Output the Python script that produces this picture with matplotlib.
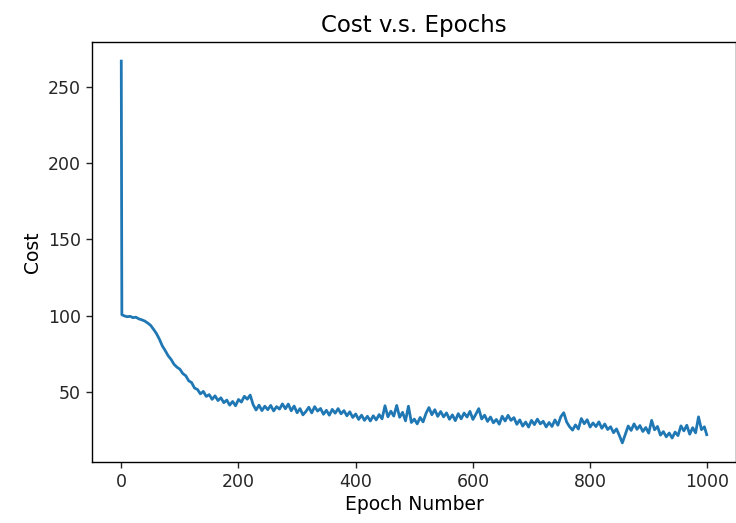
import matplotlib
matplotlib.use("Agg")
import matplotlib.pyplot as plt

epochs = [0, 1] + list(range(5, 1000, 5)) + [999]

costs = [
    267.0, 100.5,
    99.8, 99.2, 99.5, 98.6, 98.9, 97.8, 97.2, 96.4, 95.1, 93.6,
    91.0, 88.2, 84.5, 80.1, 77.0, 73.6, 71.2, 68.0, 66.1, 64.8,
    61.9, 60.5, 57.2, 56.0, 52.4, 51.5, 48.6, 50.2, 46.9, 48.1,
    45.0, 47.3, 44.2, 46.0, 42.8, 44.5, 41.2, 43.6, 40.8, 44.9,
    43.2, 47.0, 45.1, 47.8, 41.5, 38.0, 41.2, 37.6, 40.5, 38.2,
    41.0, 37.4, 40.2, 38.6, 42.0, 38.8, 41.9, 37.5, 40.6, 36.2,
    38.9, 34.8, 37.0, 39.8, 36.1, 40.2, 37.3, 39.0, 35.2, 37.8,
    34.6, 38.4, 35.9, 38.9, 35.5, 37.6, 34.2, 36.8, 33.1, 35.4,
    31.8, 34.6, 31.2, 33.9, 30.8, 34.2, 31.5, 35.0, 32.2, 40.8,
    33.5, 37.2, 34.0, 41.0, 33.2, 36.5, 30.9, 40.5, 29.8, 32.0,
    28.9, 33.1, 30.2, 35.8, 39.6, 34.9, 38.2, 33.8, 37.0, 33.5,
    36.1, 31.9, 34.8, 31.0, 35.6, 32.2, 36.0, 33.4, 37.1, 31.8,
    35.2, 38.9, 32.1, 34.6, 30.5, 33.4, 29.6, 31.8, 28.7, 33.9,
    30.8, 34.5, 31.2, 33.0, 28.6, 31.5, 27.4, 30.1, 26.8, 31.2,
    28.4, 32.0, 28.9, 30.6, 26.9, 29.8, 27.2, 31.5, 28.0, 33.6,
    36.2, 30.1, 27.0, 24.8, 28.2, 25.5, 32.4, 29.0, 31.6, 26.8,
    29.5, 27.1, 30.2, 26.0, 28.8, 25.2, 27.0, 23.1, 25.6, 21.2,
    16.4, 22.0, 27.5, 24.6, 28.9, 25.3, 27.8, 23.9, 26.5, 22.8,
    31.2, 25.0, 27.2, 21.5, 23.8, 20.4, 22.9, 19.6, 23.5, 21.2,
    27.6, 24.3, 28.0, 22.1, 26.4, 23.0, 33.5, 25.1, 27.0,
    21.8,
]

title = "Cost v.s. Epochs"
xlabel = "Epoch Number"
ylabel = "Cost"

plt.rcParams["font.family"] = "DejaVu Sans"
plt.rcParams["font.size"] = 12.5

fig = plt.figure(figsize=(7.36, 5.23), dpi=100)
ax = fig.add_axes([92 / 736, 61 / 523, 644 / 736, 420 / 523])
ax.plot(epochs[:len(costs)], costs, color="#1f77b4", linewidth=2.0)
ax.set_title(title, fontsize=16.5, pad=7)
ax.set_xlabel(xlabel, fontsize=13.5, labelpad=3)
ax.set_ylabel(ylabel, fontsize=13.5)
ax.set_xticks([0, 200, 400, 600, 800, 1000])
ax.set_yticks([50, 100, 150, 200, 250])
ax.tick_params(length=4.5, width=1.0, labelsize=12.5, colors="#262626")
for s in ax.spines.values():
    s.set_linewidth(1.0)
fig.savefig("out.png", dpi=100)
